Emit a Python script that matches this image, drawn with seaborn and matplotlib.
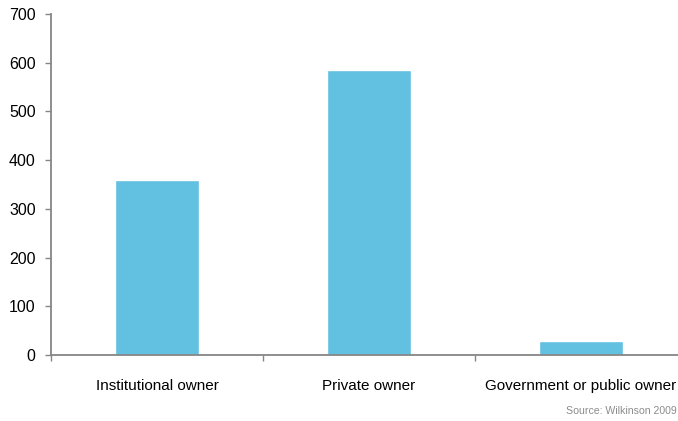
import matplotlib
matplotlib.use("Agg")
import matplotlib.pyplot as plt
import matplotlib.font_manager as fm
import seaborn as sns
import pandas as pd
from matplotlib.ticker import FixedLocator

owners = ["Institutional owner", "Private owner", "Government or public owner"]
counts = [360, 585, 28]
y_ticks = [0, 100, 200, 300, 400, 500, 600, 700]
source_note = "Source: Wilkinson 2009"

sns.set_style("white")
names = {f.name for f in fm.fontManager.ttflist}
family = ["Liberation Sans Narrow"] if "Liberation Sans Narrow" in names else ["Liberation Sans"]
plt.rcParams["font.family"] = family + ["DejaVu Sans"]

df = pd.DataFrame({"owner": owners, "count": counts})

fig = plt.figure(figsize=(6.78, 4.21), dpi=100)
ax = fig.add_axes([51 / 678, 66 / 421, 636 / 678, 341 / 421])

sns.barplot(data=df, x="owner", y="count", color="#62C0E0", width=0.4,
            saturation=1, ax=ax, zorder=2)

ax.set_xlim(-0.5, 2.5)
ax.set_ylim(0, 700)
ax.set_yticks(y_ticks)
ax.set_xlabel("")
ax.set_ylabel("")

spine_color = "#868686"
for side in ["top", "right"]:
    ax.spines[side].set_visible(False)
for side in ["left", "bottom"]:
    ax.spines[side].set_color(spine_color)
    ax.spines[side].set_linewidth(1.3)

ax.tick_params(axis="y", direction="out", length=4, width=1, color=spine_color,
               labelsize=11.5, pad=7, left=True, labelcolor="#000000")
ax.tick_params(axis="x", which="major", length=0, pad=17, labelsize=11,
               labelcolor="#000000")
ax.xaxis.set_minor_locator(FixedLocator([-0.5, 0.5, 1.5, 2.5]))
ax.tick_params(axis="x", which="minor", direction="out", length=4, width=1,
               color=spine_color, bottom=True)

fig.text(677 / 678, 1 - 411 / 421, source_note, ha="right", va="center",
         fontsize=7.6, color="#8C8C8C", family=["Liberation Sans", "DejaVu Sans"])

fig.savefig("out.png", dpi=100)
